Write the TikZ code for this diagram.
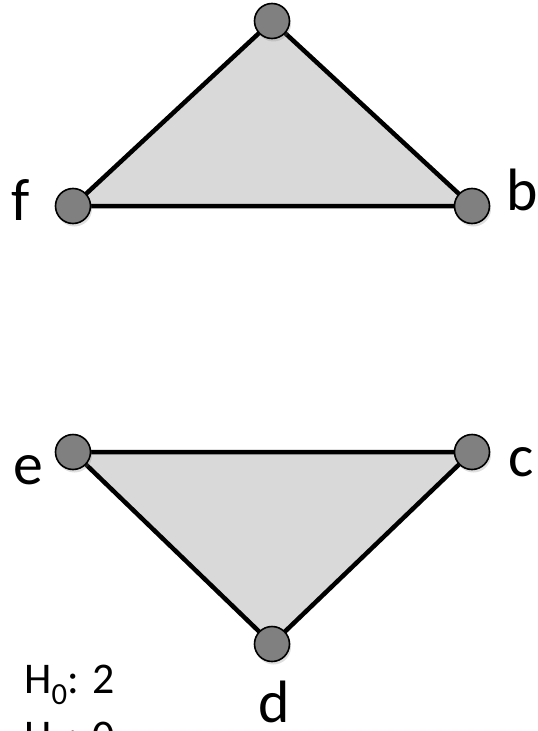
\documentclass[tikz,border=0pt]{standalone}
\usepackage{fontspec}
\setmainfont{Carlito}
\usetikzlibrary{shadows}
\begin{document}
\begin{tikzpicture}[x=1bp,y=-1bp,
  vert/.style={circle,draw=black,line width=1.6bp,fill=vgray,minimum size=35bp,inner sep=0pt,
    drop shadow={shadow xshift=1.5bp,shadow yshift=-3bp,opacity=0.25}},
  edge/.style={line width=4.5bp,line join=round},
  lbl/.style={font=\fontsize{60}{62}\selectfont,inner sep=0pt,anchor=base},
  hlbl/.style={font=\fontsize{44}{57}\selectfont,inner sep=0pt,anchor=base west}]
\definecolor{vgray}{HTML}{808080}
\definecolor{fgray}{HTML}{D9D9D9}
\useasboundingbox (0,0) rectangle (538,731);
% top triangle
\coordinate (a) at (272,21);
\coordinate (f) at (73,206);
\coordinate (b) at (472,206);
\fill[fgray] (a) -- (b) -- (f) -- cycle;
\draw[edge] (a) -- (b) -- (f) -- cycle;
\node[vert] (na) at (a) {};
\node[vert] (nf) at (f) {};
\node[vert] (nb) at (b) {};
% bottom triangle
\coordinate (e) at (73,452);
\coordinate (c) at (472,452);
\coordinate (d) at (272,644);
\fill[fgray] (e) -- (c) -- (d) -- cycle;
\draw[edge] (e) -- (c) -- (d) -- cycle;
\node[vert] (ne) at (e) {};
\node[vert] (nc) at (c) {};
\node[vert] (nd) at (d) {};
% labels
\node[lbl] (lf) at (21,220) {f};
\node[lbl] (lb) at (522,210) {b};
\node[lbl] (le) at (28,484) {e};
\node[lbl] (lc) at (521,476) {c};
\node[lbl] (ld) at (274,722) {d};
\node[hlbl] (h0) at (24,693) {H\textsubscript{0}: 2};
\node[hlbl] (h1) at (24,750) {H\textsubscript{1}: 0};
\end{tikzpicture}
\end{document}
